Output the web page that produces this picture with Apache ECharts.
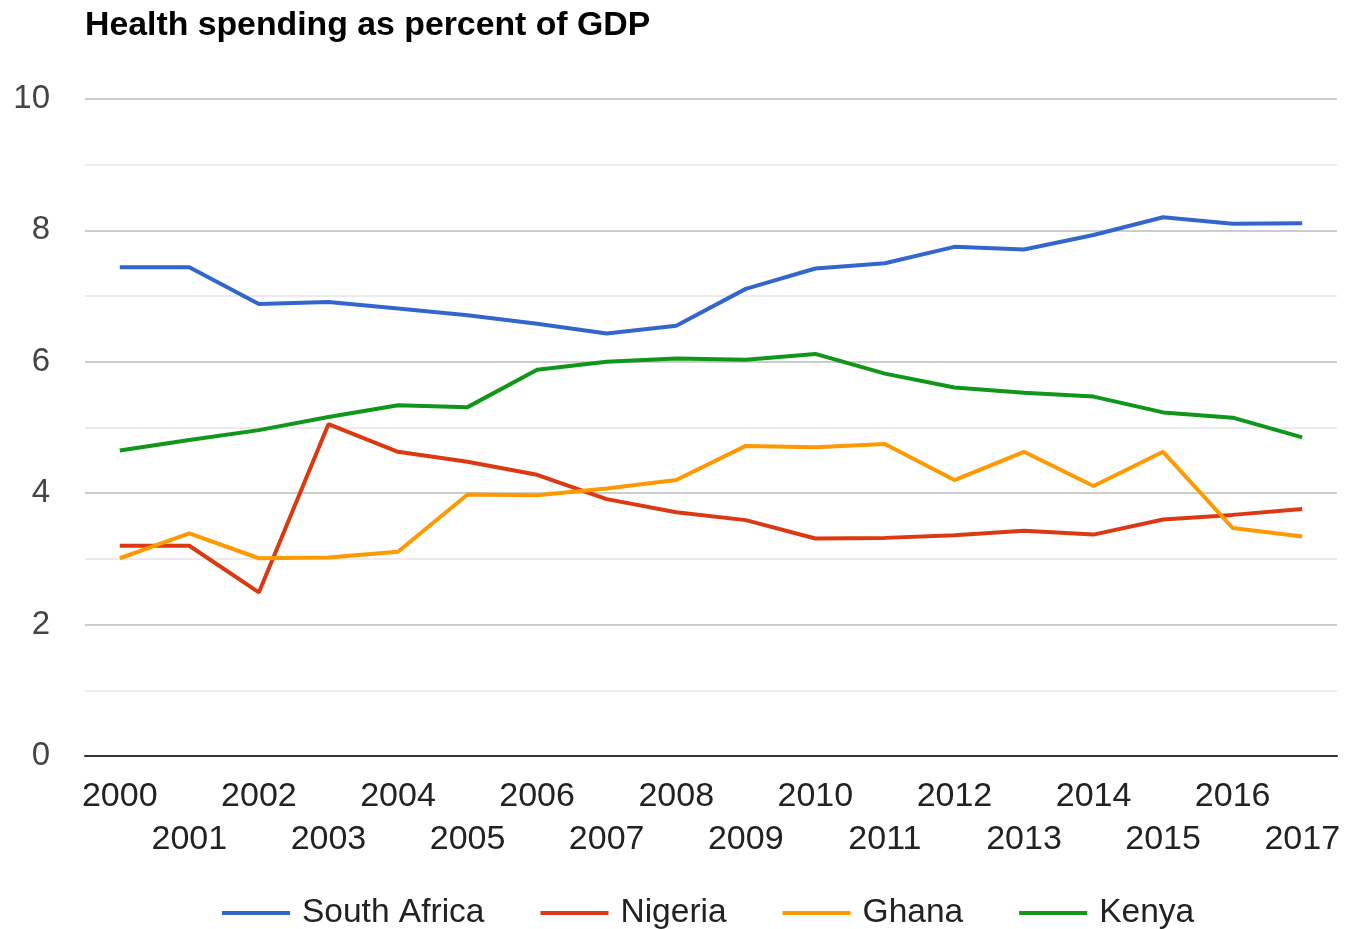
<!DOCTYPE html>
<html>
<head>
<meta charset="utf-8">
<title>Health spending as percent of GDP</title>
<script src="https://cdn.jsdelivr.net/npm/echarts@6/dist/echarts.min.js"></script>
<style>
  html, body { margin: 0; padding: 0; background: #ffffff; }
  #chart { width: 1345px; height: 929px; }
</style>
</head>
<body>
<div id="chart"></div>
<script>
// Years on the category axis
const years = ['2000','2001','2002','2003','2004','2005','2006','2007','2008',
               '2009','2010','2011','2012','2013','2014','2015','2016','2017'];

// Current health expenditure, % of GDP
const southAfrica = [7.44, 7.44, 6.88, 6.91, 6.81, 6.71, 6.58, 6.43, 6.55,
                     7.11, 7.42, 7.50, 7.75, 7.71, 7.93, 8.20, 8.10, 8.11];
const nigeria     = [3.20, 3.20, 2.49, 5.05, 4.63, 4.48, 4.28, 3.91, 3.71,
                     3.59, 3.31, 3.32, 3.36, 3.43, 3.37, 3.60, 3.67, 3.76];
const ghana       = [3.01, 3.39, 3.01, 3.02, 3.11, 3.98, 3.97, 4.07, 4.20,
                     4.72, 4.70, 4.75, 4.20, 4.63, 4.11, 4.63, 3.47, 3.34];
const kenya       = [4.65, 4.81, 4.96, 5.16, 5.34, 5.31, 5.88, 6.00, 6.05,
                     6.03, 6.12, 5.82, 5.61, 5.53, 5.47, 5.23, 5.15, 4.85];

const seriesNames = ['South Africa', 'Nigeria', 'Ghana', 'Kenya'];
const seriesData = [southAfrica, nigeria, ghana, kenya];
const seriesColors = ['#3366cc', '#dc3912', '#ff9900', '#109618'];

const FONT = '"Liberation Sans", Arial, sans-serif';

const chart = echarts.init(document.getElementById('chart'), null, { renderer: 'canvas' });

chart.setOption({
  animation: false,
  backgroundColor: '#ffffff',
  textStyle: { fontFamily: FONT },
  color: seriesColors,
  title: {
    text: 'Health spending as percent of GDP',
    left: 85,
    top: 9,
    padding: 0,
    textStyle: { fontFamily: FONT, fontSize: 33.8, fontWeight: 'bold', color: '#000000' }
  },
  legend: {
    data: seriesNames,
    left: 217,
    top: 891,
    itemWidth: 68,
    itemHeight: 4,
    itemGap: 56,
    icon: 'rect',
    textStyle: { fontFamily: FONT, fontSize: 33.5, color: '#222222', padding: [0, 0, 0, 7] }
  },
  grid: { left: 85, right: 8, top: 99, bottom: 173, containLabel: false },
  xAxis: {
    type: 'category',
    data: years,
    boundaryGap: true,
    axisLine: { show: true, lineStyle: { color: '#333333', width: 2 } },
    axisTick: { show: false },
    axisLabel: {
      interval: 0,
      margin: 19,
      fontFamily: FONT,
      fontSize: 34,
      color: '#222222',
      lineHeight: 43,
      formatter: (v, i) => (i % 2 === 1 ? '\n' + v : v)
    },
    splitLine: { show: false }
  },
  yAxis: {
    type: 'value',
    min: 0,
    max: 10,
    interval: 1,
    axisLine: { show: false },
    axisTick: { show: false },
    axisLabel: {
      margin: 35,
      fontFamily: FONT,
      fontSize: 33,
      color: '#444444',
      formatter: v => (v % 2 === 0 ? String(v) : '')
    },
    splitLine: { show: true, lineStyle: { color: ['#cccccc', '#ebebeb'], width: 2 } }
  },
  series: seriesNames.map((name, k) => ({
    name: name,
    type: 'line',
    data: seriesData[k],
    showSymbol: false,
    symbol: 'none',
    lineStyle: { width: 4, color: seriesColors[k] },
    itemStyle: { color: seriesColors[k] }
  }))
});
</script>
</body>
</html>
